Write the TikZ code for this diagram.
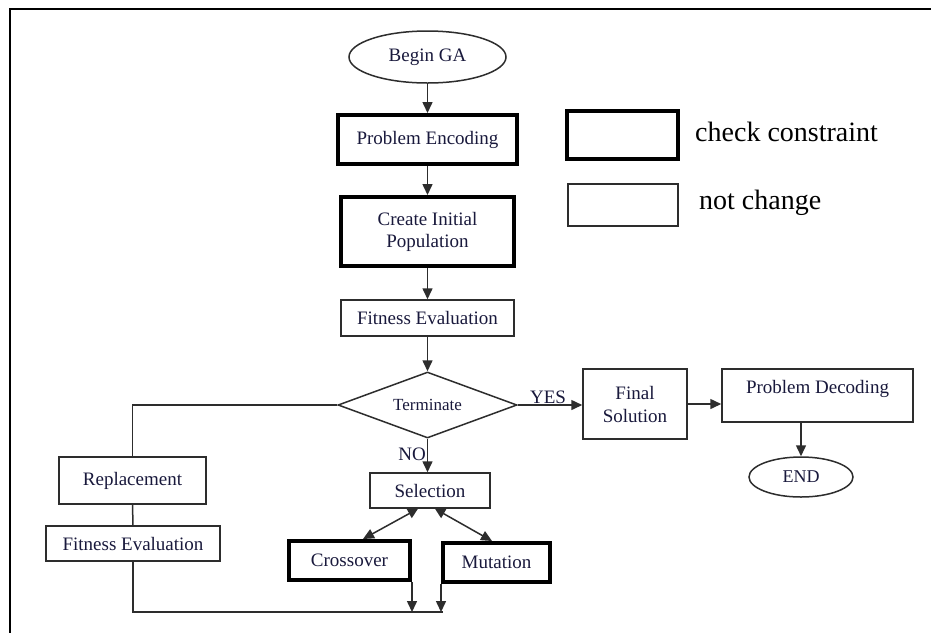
\documentclass[tikz,border=0pt]{standalone}
\usepackage{fontspec}
\setmainfont{Liberation Serif}
\usetikzlibrary{shapes.geometric,arrows.meta}
\definecolor{txt}{RGB}{25,25,60}
\definecolor{ln}{RGB}{45,45,45}
\begin{document}
\begin{tikzpicture}[x=1pt,y=-1pt,
 box/.style={draw=ln,line width=1.5pt,rectangle,inner sep=0pt,text=txt,font=\fontsize{19}{22}\selectfont,align=center},
 thickbox/.style={box,draw=black,line width=4pt},
 oval/.style={box,ellipse},
 arr/.style={draw=ln,line width=1.5pt,-{Triangle[length=11pt,width=10pt]}},
 darr/.style={draw=ln,line width=1.5pt,{Triangle[length=10pt,width=10pt]}-{Triangle[length=11pt,width=10pt]}},
 conn/.style={draw=ln,line width=1.5pt},
 lbl/.style={text=txt,font=\fontsize{19}{22}\selectfont,inner sep=1pt},
 legend/.style={text=black,font=\fontsize{28}{30}\selectfont,inner sep=0pt,anchor=base west}]
\useasboundingbox (0,0) rectangle (931,633);
\fill[white] (0,0) rectangle (931,633);
\draw[line width=2.2pt] (931,9) -- (10,9) -- (10,633);

% main column
\node[oval,minimum width=157,minimum height=52] (begin) at (427.5,57) {Begin GA};
\node[thickbox,minimum width=179,minimum height=49] (enc) at (427.5,139.5) {Problem Encoding};
\node[thickbox,minimum width=173,minimum height=69] (init) at (427.5,231.5) {Create Initial\\Population};
\node[box,minimum width=173,minimum height=36] (fit1) at (427.5,318) {Fitness Evaluation};
\node[box,diamond,aspect=2.7,minimum width=179,minimum height=66,font=\fontsize{17}{20}\selectfont] (term) at (427.5,405) {Terminate};
\node[box,minimum width=120,minimum height=35] (sel) at (430,490.5) {Selection};
\node[thickbox,minimum width=121,minimum height=39] (cross) at (349.5,560.5) {Crossover};
\node[thickbox,minimum width=107,minimum height=39] (mut) at (496.5,562.5) {Mutation};

% left loop
\node[box,minimum width=147,minimum height=47] (repl) at (132.5,480.5) {Replacement};
\node[box,minimum width=174,minimum height=35] (fit2) at (133,543.5) {Fitness Evaluation};

% right branch
\node[box,minimum width=104,minimum height=70,font=\fontsize{19}{23}\selectfont] (fin) at (635,404) {Final\\Solution};
\node[box,minimum width=191,minimum height=53] (dec) at (817.5,395.5) {};
\node[lbl] (dect) at (817.5,389) {Problem Decoding};
\node[oval,minimum width=104,minimum height=40,font=\fontsize{18}{20}\selectfont] (end) at (801,477) {END};

% legend
\node[thickbox,minimum width=111,minimum height=48] (lg1) at (622.5,135) {};
\node[box,minimum width=110,minimum height=42] (lg2) at (623,205) {};
\node[legend] (lt1) at (695,141) {check constraint};
\node[legend] (lt2) at (699,209) {not change};

% coordinates of the bottom return line
\coordinate (bl) at (133,612);
\coordinate (bm) at (443,612);

% connectors
\draw[arr] (begin.south) -- (enc.north);
\draw[arr] (enc.south) -- (init.north);
\draw[arr] (init.south) -- (fit1.north);
\draw[arr] (fit1.south) -- (term.north);
\draw[arr] (term.east) -- node[lbl,above,pos=0.47] (yes) {YES} (fin.west |- term.east);
\draw[arr] (fin.east) -- (fin.east -| dec.west);
\draw[arr] (dec.south -| end.north) -- (end.north);
\draw[arr] (term.south) -- node[lbl,left,pos=0.45] (no) {NO} (term.south |- sel.north);
\draw[conn] (term.west) -| (repl.north);
\draw[conn] (repl.south) -- (fit2.north);
\draw[conn] (fit2.south) -- (bl) -- (bm);
\draw[arr] (cross.south east) -- (cross.south east |- bl);
\draw[arr] (mut.south west) -- (mut.south west |- bl);
\draw[darr] ([xshift=-12pt]sel.south) -- ([xshift=13.5pt]cross.north);
\draw[darr] ([xshift=5pt]sel.south) -- ([xshift=-4.5pt]mut.north);
\end{tikzpicture}
\end{document}
